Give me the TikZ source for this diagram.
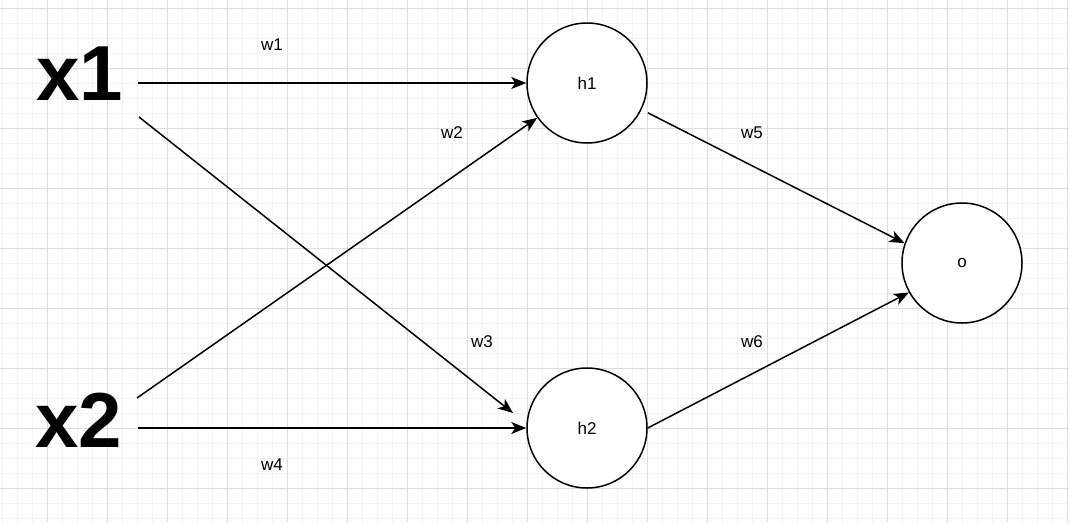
\documentclass[tikz,border=0pt]{standalone}
\usepackage{fontspec}
\setmainfont{Liberation Sans}
\usetikzlibrary{arrows.meta}
\definecolor{minorgray}{HTML}{F3F3F3}
\definecolor{majorgray}{HTML}{DDDDDD}
\tikzset{
    minorline/.style = {draw=minorgray, line width=1pt},
    majorline/.style = {draw=majorgray, line width=1pt},
    inputlabel/.style = {font=\fontsize{78}{78}\selectfont\bfseries, inner sep=0pt},
    neuron/.style = {draw, circle, fill=white, line width=1.5pt, minimum size=120pt, inner sep=0pt, font=\fontsize{17}{17}\selectfont},
    weight/.style = {font=\fontsize{17}{17}\selectfont, inner sep=0pt},
    link/.style = {line width=1.5pt, -{Stealth[length=15pt, width=12pt, inset=4pt]}},
}

\begin{document}
\begin{tikzpicture}[x=1pt, y=-1pt]
\fill[white] (0,0) rectangle (1069,523);
\useasboundingbox (0,0) rectangle (1069,523);
% background grid
\foreach \x in {2,17,...,1067} \draw[minorline] (\x,0) -- (\x,523);
\foreach \y in {8,23,...,518} \draw[minorline] (0,\y) -- (1069,\y);
\foreach \x in {47,107,...,1067} \draw[majorline] (\x,0) -- (\x,523);
\foreach \y in {8,68,...,488} \draw[majorline] (0,\y) -- (1069,\y);

% inputs
\node[inputlabel, anchor=base] (x1) at (80,100) {x1};
\node[inputlabel, anchor=base] (x2) at (79,447) {x2};
\coordinate (x1a) at (138,83);
\coordinate (x1b) at (139,117);
\coordinate (x2a) at (138,428);
\coordinate (x2b) at (137,398);
\coordinate (h2in) at (513,413);

% neurons
\node[neuron] (h1) at (587,83) {h1};
\node[neuron] (h2) at (587,428) {h2};
\node[neuron] (o) at (962,263) {o};

% connections
\draw[link] (x1a) -- (h1);
\draw[link] (x1b) -- (h2in);
\draw[link] (x2b) -- (h1);
\draw[link] (x2a) -- (h2);
\draw[link, shorten <=7pt] (h1.-26) -- (o.161);
\draw[link] (h2.east) -- (o.209);

% weights
\node[weight] (w1) at (272,45) {w1};
\node[weight] (w2) at (452,133) {w2};
\node[weight] (w3) at (482,342) {w3};
\node[weight] (w4) at (272,465) {w4};
\node[weight] (w5) at (752,133) {w5};
\node[weight] (w6) at (752,342) {w6};
\end{tikzpicture}
\end{document}
